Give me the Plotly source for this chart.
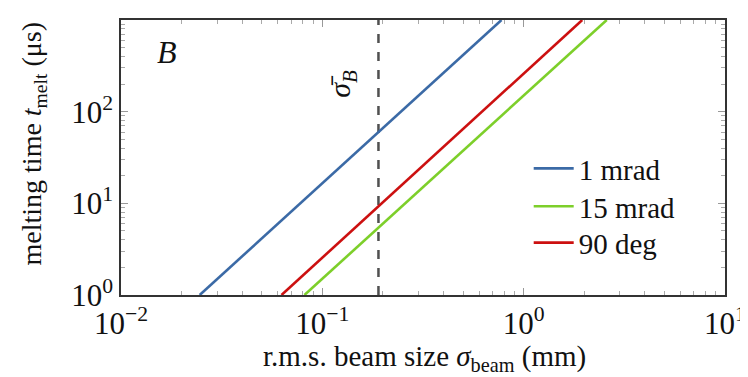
import plotly.graph_objects as go

# beam size (mm) at which each curve reaches t_melt = 1 us and 1000 us
series_names = ["1 mrad", "15 mrad", "90 deg"]
series_colors = ["#3b6aa6", "#7dcf2a", "#cc1010"]
series_x = [[0.0246, 0.776], [0.0815, 2.586], [0.0627, 1.954]]
series_y = [[1, 1000], [1, 1000], [1, 1000]]
sigma_B = 0.19

xtick_vals = [0.01, 0.1, 1, 10]
xtick_text = ["10<sup>−2</sup>", "10<sup>−1</sup>", "10<sup>0</sup>", "10<sup>1</sup>"]
ytick_vals = [1, 10, 100]
ytick_text = ["10<sup>0</sup>", "10<sup>1</sup>", "10<sup>2</sup>"]

x_minor = [m * 10.0 ** e for e in (-2, -1, 0) for m in range(2, 10)]
y_minor = [m * 10.0 ** e for e in (0, 1, 2) for m in range(2, 10)]

FONT = "Liberation Serif, Times New Roman, serif"
fig = go.Figure()
fig.add_trace(go.Scatter(x=[sigma_B, sigma_B], y=[1, 1000], mode="lines",
                         line=dict(color="#505050", width=2.5, dash="dash"),
                         showlegend=False, hoverinfo="skip"))
legend_ids = ["legend", "legend2", "legend3"]
for n, c, xs, ys, lg in zip(series_names, series_colors, series_x, series_y, legend_ids):
    fig.add_trace(go.Scatter(x=xs, y=ys, mode="lines", name=n, legend=lg,
                             line=dict(color=c, width=2.6)))

axis_common = dict(type="log", showgrid=False, zeroline=False, showline=True,
                   linecolor="#333", linewidth=1.5, mirror="ticks",
                   ticks="inside", ticklen=7, tickcolor="#999", tickwidth=1,
                   ticklabeloverflow="allow",
                   tickfont=dict(family=FONT, size=31, color="#111"))
fig.update_xaxes(range=[-2, 1], tickvals=xtick_vals, ticktext=xtick_text,
                 minor=dict(ticks="inside", ticklen=4, tickcolor="#aaa", showgrid=False,
                            tickvals=x_minor),
                 **axis_common)
fig.update_yaxes(range=[0, 3], tickvals=ytick_vals, ticktext=ytick_text,
                 minor=dict(ticks="inside", ticklen=4, tickcolor="#aaa", showgrid=False,
                            tickvals=y_minor),
                 **axis_common)

# axis titles
fig.add_annotation(x=0.502, y=-0.228, xref="paper", yref="paper", yanchor="middle",
                   text="r.m.s. beam size <i>σ</i><sub>beam</sub> (mm)", showarrow=False,
                   font=dict(family=FONT, size=29, color="#111"))
fig.add_annotation(x=-0.1445, y=0.55, xref="paper", yref="paper", xanchor="center",
                   text="melting time <i>t</i><sub>melt</sub> (μs)", showarrow=False,
                   textangle=-90, font=dict(family=FONT, size=28, color="#111"))

fig.add_annotation(x=-1.77, y=2.65, xref="x", yref="y", text="<i>B</i>", showarrow=False,
                   font=dict(family=FONT, size=32, color="#111"))
fig.add_annotation(x=-0.9, y=2.31, xref="x", yref="y", text="<i>σ̄</i><sub><i>B</i></sub>",
                   showarrow=False, textangle=-90,
                   font=dict(family=FONT, size=30, color="#111"))

leg_common = dict(x=0.675, xanchor="left", yanchor="middle", bgcolor="rgba(0,0,0,0)",
                  font=dict(family=FONT, size=29, color="#111"), itemwidth=40)
fig.update_layout(width=748, height=377, margin=dict(l=113, r=19, t=10, b=90),
                  font=dict(family=FONT, color="#111"),
                  plot_bgcolor="white", paper_bgcolor="white",
                  legend=dict(y=0.46, **leg_common),
                  legend2=dict(y=0.322, **leg_common),
                  legend3=dict(y=0.19, **leg_common))
fig.write_html("out.html")
